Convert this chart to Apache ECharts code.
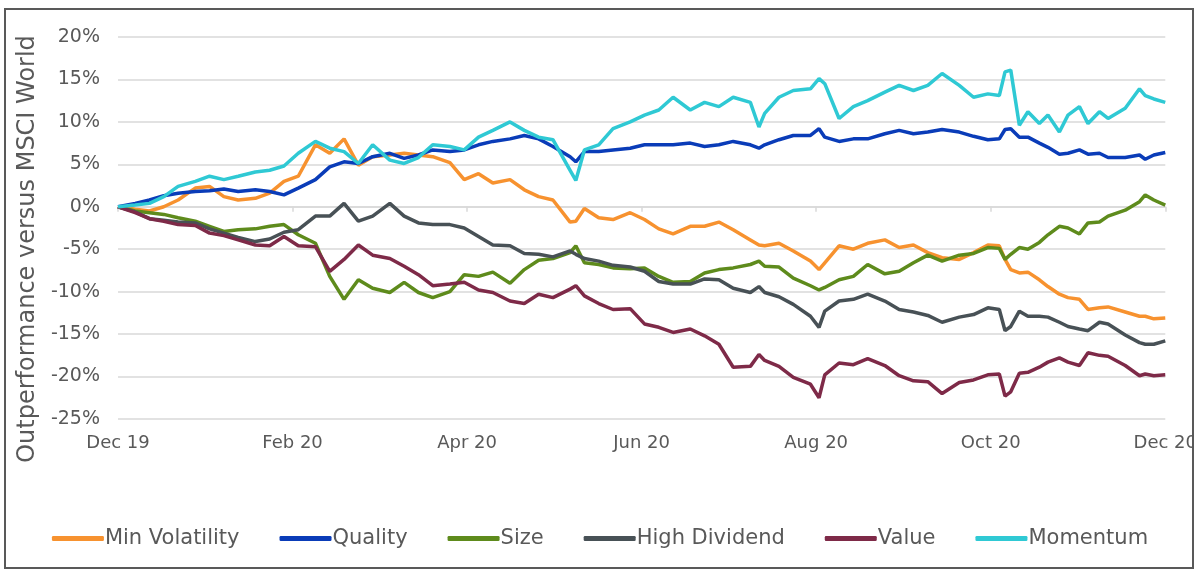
<!DOCTYPE html>
<html>
<head>
<meta charset="utf-8">
<script src="https://cdn.jsdelivr.net/npm/echarts@6/dist/echarts.min.js"></script>
<style>
  html, body { margin: 0; padding: 0; background: #fff; }
  #chart { width: 1200px; height: 574px; }
</style>
</head>
<body>
<div id="chart"></div>
<script>
// days since 31 Dec 2019
var days = [0,6,11,16,21,27,32,37,42,48,53,58,63,69,74,79,84,89,
  95,100,105,110,116,121,126,131,137,142,147,152,158,160,163,168,173,179,
  184,189,194,200,205,210,215,221,224,226,231,236,242,245,247,252,257,262,268,273,
  278,283,288,294,299,304,308,310,312,315,318,322,325,329,332,336,339,343,346,352,357,359,362,366];

var tickLabels = ['Dec 19', 'Feb 20', 'Apr 20', 'Jun 20', 'Aug 20', 'Oct 20', 'Dec 20'];

var minVolatility = [0,-0.3,-0.5,0,0.8,2.2,2.4,1.2,0.8,1.0,1.6,3.0,3.6,7.3,6.3,8.0,4.9,5.9,
  6.1,6.3,6.1,5.9,5.2,3.2,3.9,2.8,3.2,2.0,1.2,0.8,-1.8,-1.7,-0.2,-1.3,-1.5,-0.7,
  -1.5,-2.6,-3.2,-2.3,-2.3,-1.8,-2.7,-3.9,-4.5,-4.6,-4.3,-5.2,-6.4,-7.4,-6.6,-4.6,-5.0,-4.3,-3.9,-4.8,
  -4.5,-5.4,-6.0,-6.2,-5.4,-4.5,-4.6,-6.2,-7.4,-7.8,-7.7,-8.6,-9.4,-10.3,-10.7,-10.9,-12.1,-11.9,-11.8,-12.4,-12.9,-12.9,-13.2,-13.1];

var quality = [0,0.4,0.8,1.3,1.6,1.8,1.9,2.1,1.8,2.0,1.8,1.4,2.2,3.2,4.7,5.3,5.1,5.9,
  6.3,5.7,6.1,6.7,6.5,6.7,7.3,7.7,8.0,8.4,8.0,7.1,5.9,5.3,6.5,6.5,6.7,6.9,
  7.3,7.3,7.3,7.5,7.1,7.3,7.7,7.3,6.9,7.3,7.9,8.4,8.4,9.2,8.2,7.7,8.0,8.0,8.6,9.0,
  8.6,8.8,9.1,8.8,8.3,7.9,8.0,9.1,9.2,8.2,8.2,7.5,7.0,6.2,6.3,6.7,6.2,6.3,5.8,5.8,6.1,5.6,6.1,6.4];

var size = [0,-0.5,-0.7,-0.9,-1.3,-1.7,-2.3,-2.9,-2.7,-2.6,-2.3,-2.1,-3.3,-4.3,-8.2,-10.9,-8.6,-9.6,
  -10.1,-8.9,-10.1,-10.7,-10.0,-8.0,-8.2,-7.7,-9.0,-7.4,-6.3,-6.1,-5.4,-4.6,-6.6,-6.8,-7.2,-7.3,
  -7.2,-8.2,-8.9,-8.8,-7.8,-7.4,-7.2,-6.8,-6.4,-7.0,-7.1,-8.4,-9.3,-9.8,-9.5,-8.6,-8.2,-6.8,-7.9,-7.6,
  -6.6,-5.7,-6.4,-5.7,-5.5,-4.8,-4.9,-6.2,-5.6,-4.8,-5.0,-4.2,-3.3,-2.3,-2.5,-3.2,-1.9,-1.8,-1.1,-0.4,0.6,1.4,0.8,0.2];

var highDividend = [0,-0.6,-1.4,-1.6,-1.8,-1.9,-2.6,-3.1,-3.6,-4.1,-3.8,-3.0,-2.7,-1.1,-1.1,0.4,-1.7,-1.1,
  0.4,-1.1,-1.9,-2.1,-2.1,-2.5,-3.5,-4.5,-4.6,-5.5,-5.6,-5.9,-5.2,-5.6,-6.1,-6.4,-6.9,-7.1,
  -7.6,-8.8,-9.1,-9.1,-8.5,-8.6,-9.6,-10.1,-9.4,-10.1,-10.6,-11.5,-12.9,-14.2,-12.3,-11.1,-10.9,-10.3,-11.1,-12.1,
  -12.4,-12.8,-13.6,-13.0,-12.7,-11.9,-12.1,-14.6,-14.1,-12.3,-12.9,-12.9,-13.0,-13.6,-14.1,-14.4,-14.6,-13.6,-13.8,-15.1,-16.0,-16.2,-16.2,-15.8];

var value = [0,-0.7,-1.4,-1.7,-2.1,-2.2,-3.1,-3.4,-3.9,-4.5,-4.6,-3.5,-4.6,-4.7,-7.6,-6.2,-4.5,-5.7,
  -6.1,-7.0,-8.0,-9.3,-9.1,-8.9,-9.8,-10.1,-11.1,-11.4,-10.3,-10.7,-9.7,-9.3,-10.5,-11.4,-12.1,-12.0,
  -13.8,-14.2,-14.8,-14.4,-15.2,-16.2,-18.9,-18.8,-17.4,-18.1,-18.8,-20.1,-20.9,-22.5,-19.8,-18.4,-18.6,-17.9,-18.7,-19.9,
  -20.5,-20.6,-22.0,-20.7,-20.4,-19.8,-19.7,-22.3,-21.8,-19.6,-19.5,-18.9,-18.3,-17.8,-18.3,-18.7,-17.2,-17.5,-17.6,-18.7,-19.9,-19.7,-19.9,-19.8];

var momentum = [0,0.2,0.4,1.2,2.4,3.0,3.6,3.2,3.6,4.1,4.3,4.8,6.3,7.7,6.9,6.5,5.1,7.3,
  5.5,5.1,5.8,7.3,7.1,6.7,8.2,9.0,10.0,9.0,8.2,7.9,4.3,3.1,6.7,7.3,9.2,10.0,
  10.8,11.4,12.9,11.4,12.3,11.8,12.9,12.3,9.4,11.0,12.9,13.7,13.9,15.1,14.5,10.4,11.8,12.5,13.5,14.3,
  13.7,14.3,15.7,14.3,12.9,13.3,13.1,15.9,16.1,9.6,11.2,9.8,10.8,8.8,10.8,11.8,9.8,11.2,10.4,11.6,13.9,13.1,12.7,12.3];

var names = ['Min Volatility', 'Quality', 'Size', 'High Dividend', 'Value', 'Momentum'];
var colors = ['#F7922F', '#0A3CB8', '#5E8B1C', '#485156', '#7E2A48', '#2FC9D4'];
var seriesValues = [minVolatility, quality, size, highDividend, value, momentum];

var font = '"DejaVu Sans", sans-serif';
var textColor = '#595959';

function pairs(vals) {
    return days.map(function (d, i) { return [d, vals[i]]; });
}

var option = {
    animation: false,
    color: colors,
    textStyle: { fontFamily: font },
    grid: { left: 118, right: 34, top: 37, bottom: 155 },
    legend: {
        data: names,
        left: 'center',
        top: 523,
        icon: 'roundRect',
        itemWidth: 52,
        itemHeight: 5,
        itemGap: 40,
        textStyle: { fontSize: 21, color: textColor, fontFamily: font, padding: [0, 0, 0, -4] }
    },
    xAxis: [
        {
            type: 'value', min: 0, max: 366, interval: 61,
            axisLine: { show: true, onZero: true, lineStyle: { color: '#D9D9D9', width: 1.5 } },
            axisTick: { show: true, length: 5, lineStyle: { color: '#D9D9D9', width: 1.5 } },
            axisLabel: { show: false },
            splitLine: { show: false }
        },
        {
            type: 'value', min: 0, max: 366, interval: 61, position: 'bottom',
            axisLine: { show: false, onZero: false },
            axisTick: { show: false },
            splitLine: { show: false },
            axisLabel: {
                color: textColor, fontSize: 18, fontFamily: font, margin: 15,
                formatter: function (v) { return tickLabels[Math.round(v / 61)]; }
            }
        }
    ],
    yAxis: {
        type: 'value', min: -25, max: 20, interval: 5,
        axisLine: { show: false },
        axisTick: { show: false },
        axisLabel: { formatter: '{value}%', color: textColor, fontSize: 19, fontFamily: font, margin: 18 },
        splitLine: { lineStyle: { color: '#D9D9D9', width: 1.5 } }
    },
    graphic: [
        {
            type: 'text', x: 28, y: 249, rotation: Math.PI / 2, z: 10,
            style: {
                text: 'Outperformance versus MSCI World', fill: textColor,
                font: '24px "DejaVu Sans", sans-serif', align: 'center', verticalAlign: 'middle'
            }
        },
        {
            // the frame cuts the last date label, as in the original
            type: 'rect', z: 15, silent: true,
            shape: { x: 1194, y: 0, width: 6, height: 574 },
            style: { fill: '#fff' }
        },
        {
            type: 'rect', z: 20, silent: true,
            shape: { x: 5, y: 9, width: 1188, height: 559 },
            style: { fill: 'none', stroke: '#595959', lineWidth: 2 }
        }
    ],
    series: names.map(function (n, i) {
        return {
            name: n,
            type: 'line',
            data: pairs(seriesValues[i]),
            showSymbol: false,
            symbol: 'none',
            lineStyle: { width: 3.5, color: colors[i] },
            itemStyle: { color: colors[i] }
        };
    })
};

var myChart = echarts.init(document.getElementById('chart'));
myChart.setOption(option);
</script>
</body>
</html>
